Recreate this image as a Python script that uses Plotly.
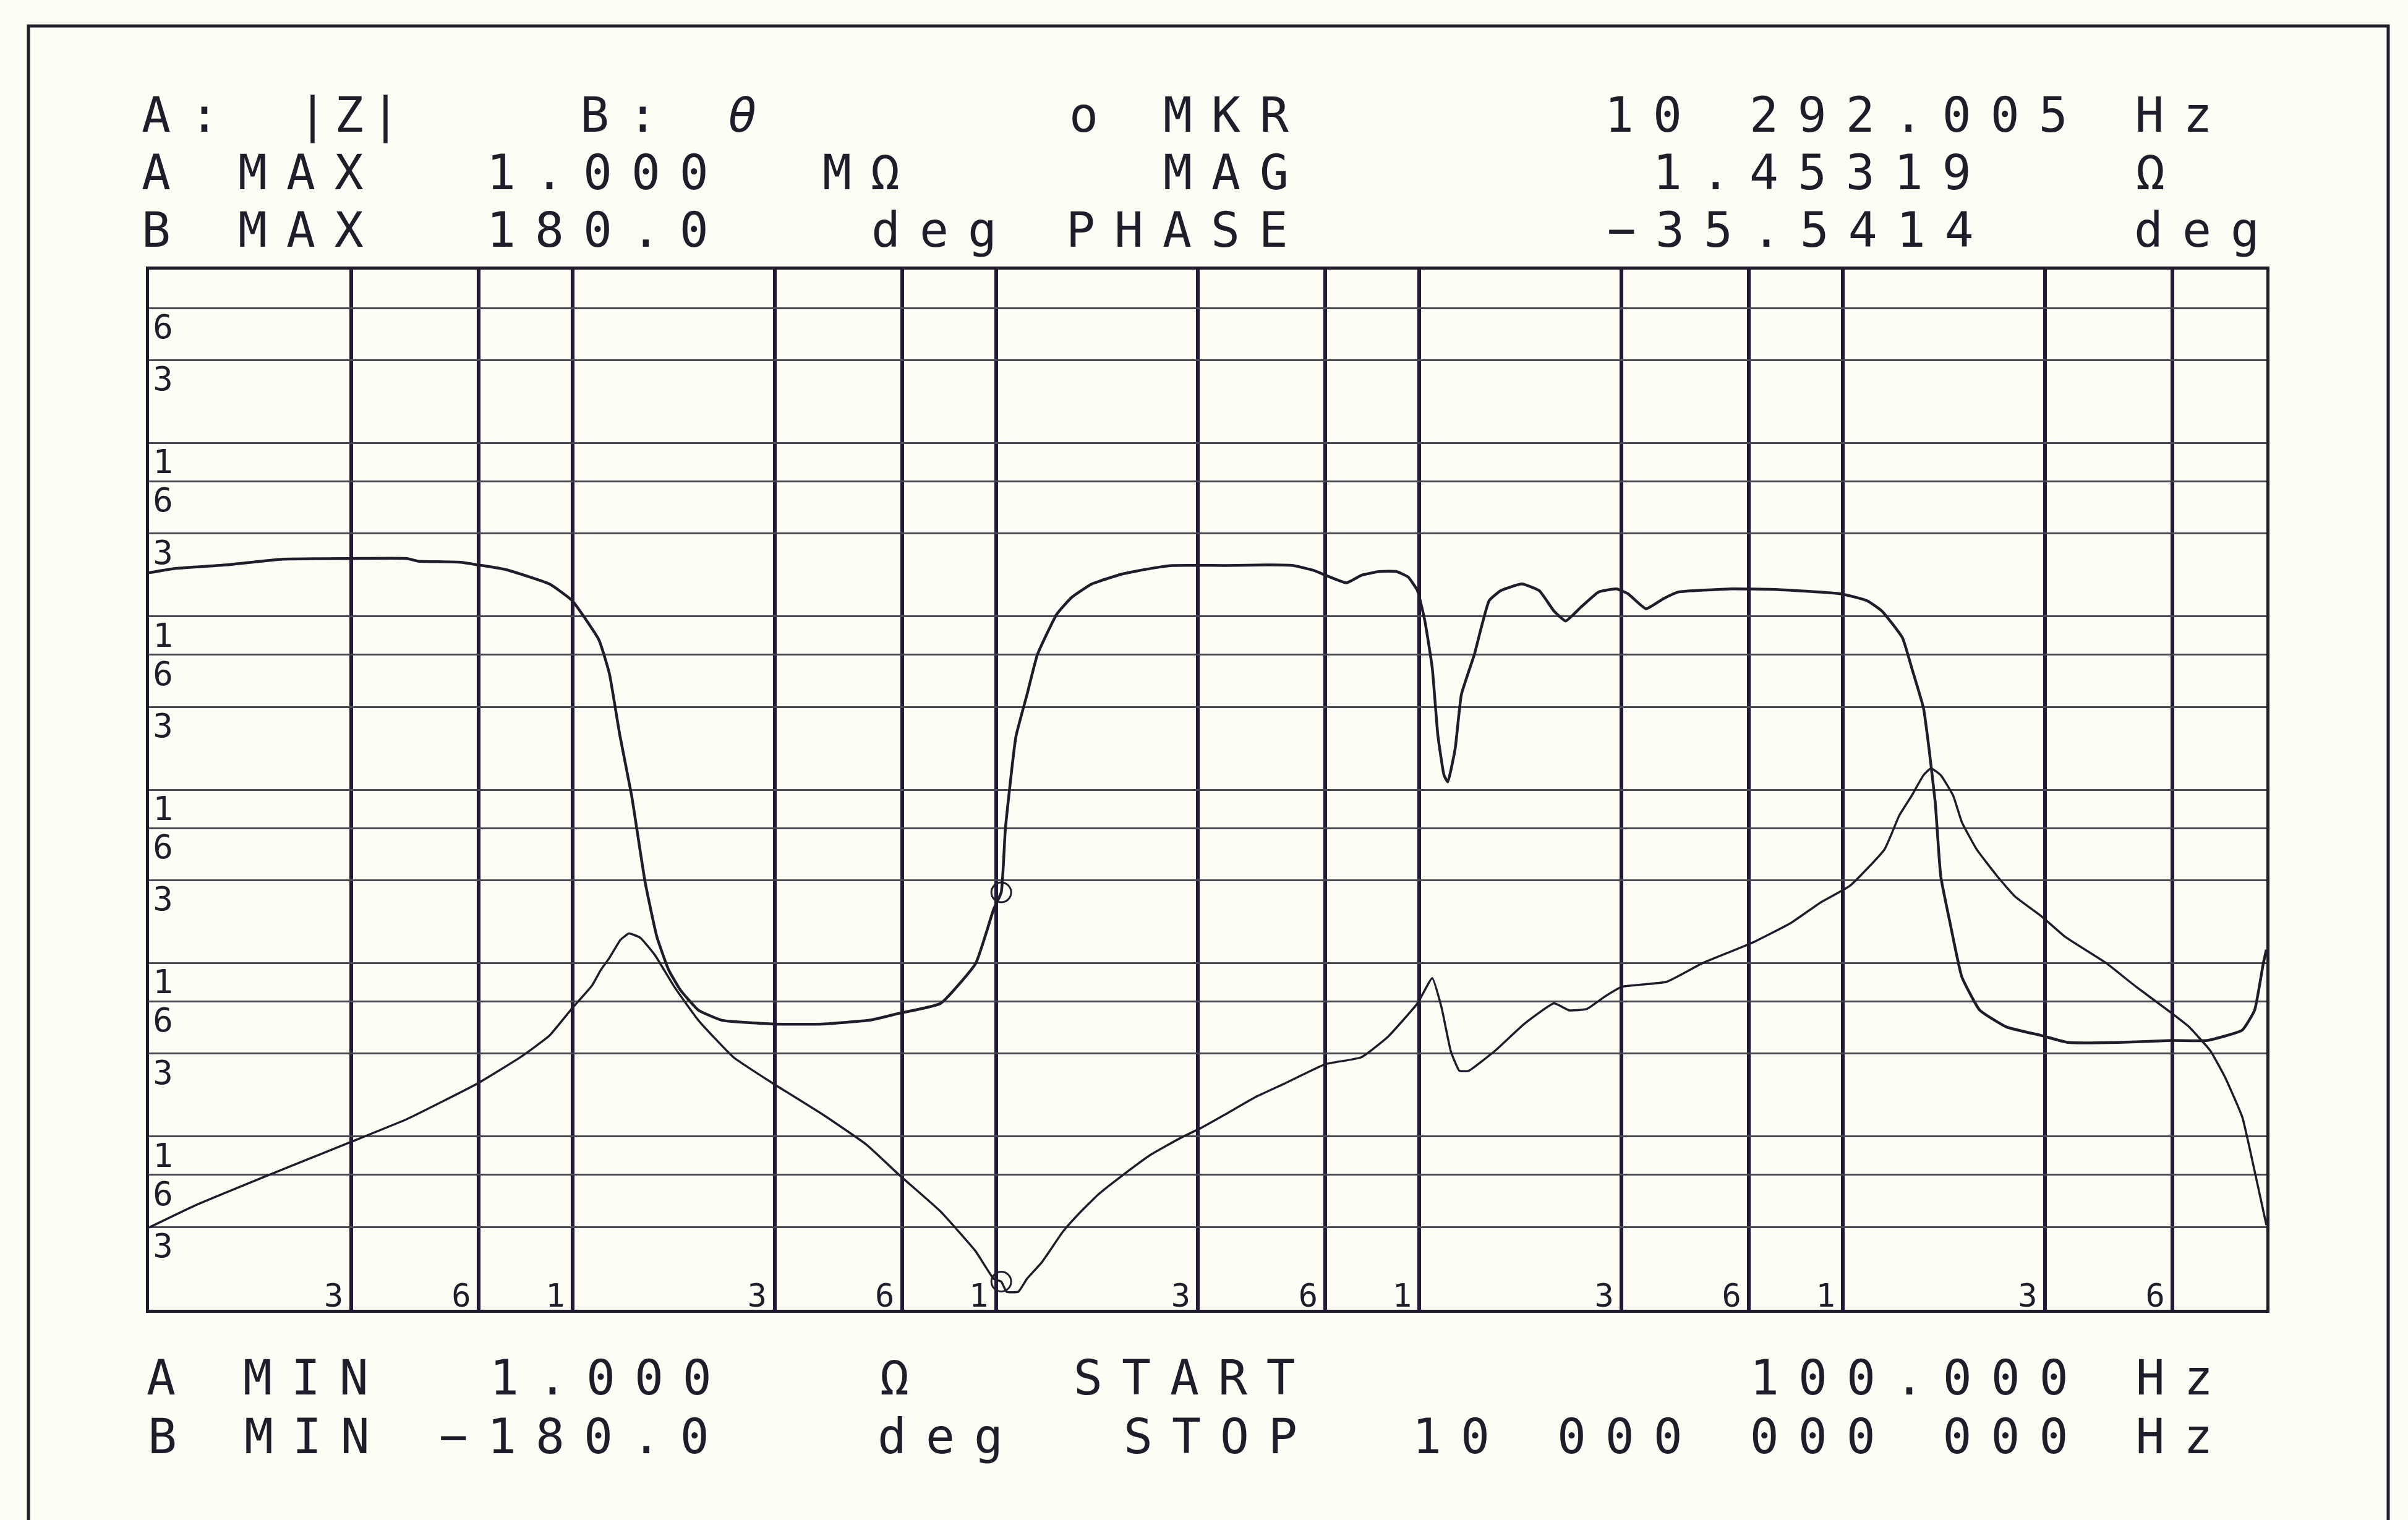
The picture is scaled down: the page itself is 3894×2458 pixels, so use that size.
import plotly.graph_objects as go

# ---------------- data ----------------
freq_mag = [100, 128, 189, 299, 407, 599, 756, 882, 999, 1112, 1166, 1222, 1298, 1360,
            1445, 1566, 1739, 1982, 2400, 2985, 3894, 4942, 5905, 7396, 8957, 9874,
            10292, 10595, 11290, 11838, 12834, 14386, 15590, 17420, 19795, 23257, 27330,
            30520, 34805, 40890, 47880, 59970, 72890, 84200, 98920, 107220, 112800,
            118600, 124300, 130700, 151100, 176900, 207900, 225400, 248400, 273800,
            300800, 383100, 465600, 611100, 752600, 884400, 1039000, 1254000, 1359000,
            1454000, 1550000, 1614000, 1702000, 1821000, 1909000, 2069000, 2311000,
            2549000, 2944000, 3344000, 4190000, 4923000, 5982000, 6571000, 7366000,
            7984000, 8773000, 9381000, 10000000]
mag_ohm = [2.98, 3.98, 5.90, 9.27, 12.6, 20.3, 28.8, 38.1, 55.0, 74.2, 91.1, 107, 136, 148,
           140, 111, 73.0, 46.8, 28.6, 20.1, 13.4, 8.97, 6.00, 3.69, 2.17, 1.51,
           1.453, 1.27, 1.27, 1.51, 1.88, 2.82, 3.52, 4.61, 5.90, 7.87, 9.82,
           11.2, 13.4, 16.8, 20.1, 26.1, 28.6, 37.5, 58.5, 81.9, 55.2,
           31.0, 23.9, 23.9, 31.3, 44.6, 58.5, 53.4, 54.3, 64.0,
           73.0, 77.9, 99.7, 131, 170, 223, 279, 453, 711,
           925, 1213, 1328, 1213, 925, 650, 453, 318,
           242, 186, 142, 99.7, 73.0, 51.3, 42.8, 31.3,
           22.0, 12.9, 6.30, 3.08]

freq_phase = [100, 116, 152, 207, 299, 407, 431, 544, 699, 882, 999, 1154, 1222, 1293,
              1379, 1485, 1582, 1687, 1797, 1982, 2252, 2985, 3894, 5026, 5905, 7396,
              8957, 9874, 10292, 10524, 11144, 11838, 12531, 13912, 15080, 16843, 19795,
              23257, 26077, 34805, 44322, 50360, 56260, 67220, 72890, 80330, 88250, 94060,
              98920, 102990, 107220, 110500, 114300, 116650, 121450, 125600, 134790,
              146050, 155700, 174500, 191800, 207900, 221500, 240300, 264700, 291800,
              311000, 342800, 376700, 408300, 545100, 694100, 987900, 1141000, 1237000,
              1382000, 1454000, 1550000, 1597000, 1652000, 1702000, 1791000, 1909000,
              2104000, 2431000, 2944000, 3401000, 4466000, 5982000, 7244000, 8773000,
              9381000, 9834000, 10000000]
phase_deg = [75.1, 76.6, 77.8, 79.8, 80.0, 80.0, 79.1, 78.7, 76.1, 71.2, 65.4, 51.9, 40.2, 19.0,
             -2.0, -32.2, -50.9, -62.4, -69.3, -76.3, -79.8, -81.1, -81.1, -79.8, -77.4, -74.0,
             -60.1, -41.4, -35.5, -13.6, 18.3, 32.9, 46.8, 60.7, 66.5, 71.2, 74.6,
             76.6, 77.6, 77.6, 77.8, 77.6, 75.9, 71.6, 74.2, 75.5, 75.5, 73.6,
             68.9, 58.4, 42.1, 19.0, 5.0, 2.7, 14.2, 32.9, 46.8,
             65.4, 68.9, 71.2, 68.9, 61.8, 58.4, 63.1, 68.4, 69.5,
             67.8, 62.6, 66.1, 68.4, 69.5, 69.3, 67.8, 65.4, 61.8,
             52.6, 42.1, 28.2, 14.2, -4.4, -29.9, -46.2, -64.8,
             -76.3, -82.1, -85.1, -87.5, -87.5, -86.8, -86.8, -83.2,
             -76.3, -60.1, -55.4]

marker_freq = [10292.005]
marker_mag = [1.45319]
marker_phase = [-35.5414]

freq_ticks = [300, 600, 1e3, 3e3, 6e3, 1e4, 3e4, 6e4, 1e5, 3e5, 6e5, 1e6, 3e6, 6e6]
freq_ticktext = ["3", "6", "1", "3", "6", "1", "3", "6", "1", "3", "6", "1", "3", "6"]
mag_ticks = [3, 6, 10, 30, 60, 100, 300, 600, 1e3, 3e3, 6e3, 1e4, 3e4, 6e4, 1e5, 3e5, 6e5]
mag_ticktext = ["3", "6", "1", "3", "6", "1", "3", "6", "1", "3", "6", "1", "3", "6", "1", "3", "6"]

header_rows = [
    ["A:", "|Z|", "B:", "<i>θ</i>", "o", "MKR", "10 292.005 Hz"],
    ["A MAX", "1.000", "MΩ", "MAG", "1.45319", "Ω"],
    ["B MAX", "180.0", "deg", "PHASE", "−35.5414", "deg"],
]
footer_rows = [
    ["A MIN", "1.000", "Ω", "START", "100.000 Hz"],
    ["B MIN", "−180.0", "deg", "STOP", "10 000 000 000 Hz"],
]

# ---------------- layout (pixel geometry) ----------------
W, H = 3894, 2458
PL, PR, PT, PB = 241, 3665, 436, 2118
INK = "#201c2a"
BG = "#fdfcf5"
FONT = "DejaVu Sans Mono"
FS = 78
PITCH = 78
LS = PITCH - 0.602 * FS

header_pos = [
    [(228, "left", LS), (570, "center", 12), (937, "left", LS), (1200, "center", 0),
     (1752, "center", 0), (1880, "left", LS), (2594, "left", LS)],
    [(228, "left", LS), (786, "left", LS), (1329, "left", LS), (1880, "left", LS),
     (2672, "left", LS), (3477, "center", 0)],
    [(228, "left", LS), (786, "left", LS), (1408, "left", LS), (1723, "left", LS),
     (2598, "left", LS), (3450, "left", LS)],
]
header_y = [186, 279, 372]
footer_pos = [
    [(236, "left", LS), (791, "left", LS), (1446, "center", 0), (1735, "left", LS), (2829, "left", LS)],
    [(238, "left", LS), (709, "left", LS), (1418, "left", LS), (1816, "left", LS), (2283, "left", LS)],
]
footer_y = [2228, 2323]

fig = go.Figure()
fig.add_trace(go.Scatter(x=freq_mag, y=mag_ohm, mode="lines",
                         line=dict(color=INK, width=3.5, shape="spline", smoothing=0.4),
                         xaxis="x", yaxis="y", showlegend=False, hoverinfo="skip"))
fig.add_trace(go.Scatter(x=freq_phase, y=phase_deg, mode="lines",
                         line=dict(color=INK, width=4.5, shape="spline", smoothing=0.4),
                         xaxis="x", yaxis="y2", showlegend=False, hoverinfo="skip"))
fig.add_trace(go.Scatter(x=marker_freq, y=marker_mag, mode="markers",
                         marker=dict(symbol="circle-open", size=32, color=INK, line=dict(width=3, color=INK)),
                         xaxis="x", yaxis="y", showlegend=False, hoverinfo="skip"))
fig.add_trace(go.Scatter(x=marker_freq, y=marker_phase, mode="markers",
                         marker=dict(symbol="circle-open", size=32, color=INK, line=dict(width=3, color=INK)),
                         xaxis="x", yaxis="y2", showlegend=False, hoverinfo="skip"))

annotations = []


def add_row(tokens, positions, py):
    for txt, (px, anchor, ls) in zip(tokens, positions):
        if ls:
            txt = f'<span style="letter-spacing:{ls:.1f}px">{txt}</span>'
        annotations.append(dict(
            text=txt, x=px / W, y=1 - py / H, xref="paper", yref="paper",
            xanchor=anchor, yanchor="middle", showarrow=False, borderpad=0,
            font=dict(family=FONT, size=FS, color=INK)))


for tokens, pos, py in zip(header_rows, header_pos, header_y):
    add_row(tokens, pos, py)
for tokens, pos, py in zip(footer_rows, footer_pos, footer_y):
    add_row(tokens, pos, py)

fig.update_layout(
    width=W, height=H, autosize=False,
    margin=dict(l=0, r=0, t=0, b=0, pad=0),
    paper_bgcolor=BG, plot_bgcolor=BG,
    showlegend=False,
    xaxis=dict(type="log", range=[2, 7], domain=[PL / W, PR / W],
               tickvals=freq_ticks, ticktext=freq_ticktext, ticks="",
               ticklabelposition="inside", ticklabelshift=-28, ticklabelstandoff=2,
               tickfont=dict(family=FONT, size=52, color=INK),
               showgrid=True, gridcolor="#221a38", gridwidth=6, zeroline=False,
               showline=True, linecolor=INK, linewidth=5, mirror=True, fixedrange=True),
    yaxis=dict(type="log", range=[0, 6], domain=[1 - PB / H, 1 - PT / H],
               tickvals=mag_ticks, ticktext=mag_ticktext, ticks="",
               ticklabelposition="inside", ticklabelshift=30, ticklabelstandoff=14,
               tickfont=dict(family=FONT, size=54, color=INK),
               showgrid=True, gridcolor="#4a4850", gridwidth=3, zeroline=False,
               showline=True, linecolor=INK, linewidth=5, mirror=True, fixedrange=True),
    yaxis2=dict(overlaying="y", anchor="x", range=[-180, 180], showgrid=False,
                showticklabels=False, ticks="", zeroline=False, showline=False,
                fixedrange=True),
    annotations=annotations,
    shapes=[dict(type="rect", xref="paper", yref="paper",
                 x0=46 / W, x1=3862 / W, y0=-0.02, y1=1 - 42 / H,
                 line=dict(color=INK, width=5), fillcolor="rgba(0,0,0,0)", layer="below")],
)

fig.write_html("out.html")
